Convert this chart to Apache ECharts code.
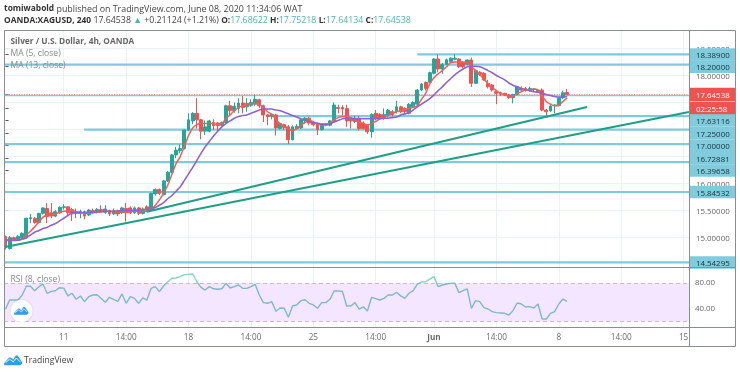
<!DOCTYPE html>
<html><head><meta charset="utf-8">
<style>html,body{margin:0;padding:0;background:#fff}#main{width:740px;height:373px;filter:blur(0.4px)}</style>
<script src="https://cdn.jsdelivr.net/npm/echarts@6/dist/echarts.min.js"></script>
</head><body><div id="main"></div>
<script>
// [open, close, low, high], one row per 4h bar
const ohlc = [
[15.02,14.82,14.78,15.04],[14.80,15.00,14.78,15.03],[15.00,14.97,14.94,15.02],[14.96,15.02,14.94,15.05],[14.99,15.08,14.97,15.10],
[15.00,15.36,14.98,15.37],[15.35,15.37,15.27,15.44],[15.36,15.28,15.26,15.38],[15.28,15.45,15.26,15.46],[15.45,15.55,15.43,15.56],
[15.54,15.39,15.27,15.64],[15.46,15.40,15.36,15.64],[15.40,15.48,15.38,15.51],[15.46,15.56,15.44,15.58],[15.56,15.57,15.52,15.62],
[15.57,15.46,15.42,15.58],[15.52,15.44,15.31,15.55],[15.48,15.45,15.36,15.54],[15.45,15.48,15.36,15.52],[15.48,15.40,15.34,15.50],
[15.42,15.51,15.40,15.53],[15.50,15.47,15.44,15.54],[15.48,15.52,15.45,15.55],[15.52,15.49,15.46,15.60],[15.47,15.53,15.44,15.60],
[15.50,15.44,15.40,15.52],[15.44,15.50,15.42,15.54],[15.50,15.44,15.40,15.52],[15.46,15.55,15.44,15.57],[15.54,15.46,15.30,15.64],
[15.55,15.46,15.44,15.58],[15.46,15.55,15.44,15.58],[15.55,15.45,15.42,15.57],[15.45,15.53,15.43,15.56],[15.57,15.51,15.47,15.60],
[15.51,15.82,15.49,15.83],[15.81,15.89,15.78,15.91],[15.89,15.82,15.79,15.91],[15.80,16.05,15.78,16.07],[16.05,16.21,16.03,16.23],
[16.21,16.53,16.19,16.55],[16.53,16.62,16.47,16.68],[16.61,16.65,16.56,16.72],[16.65,16.99,16.63,17.00],[16.99,17.18,16.97,17.30],
[17.16,17.30,17.10,17.32],[17.30,17.18,17.02,17.58],[17.18,16.97,16.82,17.20],[16.97,17.05,16.90,17.17],[16.97,17.16,16.95,17.18],
[17.13,17.07,16.99,17.19],[17.12,17.07,16.97,17.14],[17.08,17.13,17.05,17.15],[17.13,17.44,17.11,17.46],[17.44,17.35,17.26,17.53],
[17.35,17.43,17.31,17.50],[17.39,17.49,17.30,17.58],[17.49,17.41,17.30,17.62],[17.42,17.48,17.33,17.58],[17.45,17.50,17.42,17.56],
[17.47,17.56,17.44,17.65],[17.55,17.44,17.40,17.57],[17.44,17.27,17.14,17.46],[17.27,17.24,17.08,17.29],[17.24,17.28,17.19,17.30],
[17.27,17.03,16.89,17.29],[17.02,17.115,17.00,17.13],[17.09,17.04,16.99,17.11],[17.05,16.81,16.73,17.08],[16.81,17.05,16.80,17.08],
[17.02,17.06,17.00,17.10],[17.03,17.18,17.01,17.20],[17.16,17.21,17.12,17.23],[17.21,17.12,17.08,17.24],[17.13,17.09,17.06,17.15],
[17.10,17.00,16.90,17.12],[17.00,17.10,16.98,17.12],[17.08,17.10,17.06,17.12],[17.08,17.16,17.06,17.18],[17.16,17.454,17.14,17.50],
[17.41,17.39,17.30,17.46],[17.41,17.38,17.27,17.45],[17.39,17.16,17.05,17.46],[17.21,17.16,17.02,17.23],[17.15,17.21,17.12,17.26],
[17.21,17.02,16.98,17.25],[17.12,17.02,17.00,17.15],[17.08,16.96,16.92,17.10],[16.96,17.28,16.85,17.30],[17.30,17.21,17.17,17.36],
[17.28,17.21,17.18,17.30],[17.22,17.28,17.18,17.39],[17.27,17.36,17.22,17.38],[17.33,17.28,17.24,17.36],[17.33,17.42,17.30,17.53],
[17.42,17.33,17.30,17.44],[17.39,17.33,17.29,17.41],[17.30,17.467,17.28,17.49],[17.42,17.50,17.40,17.52],[17.47,17.73,17.45,17.75],
[17.73,17.843,17.71,17.86],[17.87,17.76,17.72,17.89],[17.873,18.052,17.86,18.07],[18.04,18.305,18.02,18.32],[18.305,18.12,18.06,18.39],
[18.12,18.206,18.03,18.23],[18.206,18.29,18.19,18.31],[18.256,18.32,18.24,18.34],[18.30,18.32,18.28,18.39],[18.305,18.163,18.14,18.32],
[18.243,18.163,18.14,18.26],[18.206,18.286,18.19,18.30],[18.286,17.855,17.79,18.33],[17.855,18.09,17.84,18.11],[18.06,18.02,17.99,18.08],
[18.04,17.917,17.90,18.06],[17.855,17.793,17.76,17.92],[17.824,17.732,17.70,17.84],[17.70,17.67,17.47,17.72],[17.68,17.664,17.62,17.70],
[17.67,17.64,17.62,17.68],[17.64,17.59,17.57,17.66],[17.59,17.65,17.485,17.66],[17.65,17.79,17.63,17.80],[17.76,17.73,17.70,17.80],
[17.76,17.73,17.70,17.79],[17.72,17.76,17.70,17.79],[17.74,17.75,17.70,17.76],[17.70,17.73,17.68,17.75],[17.73,17.36,17.34,17.76],
[17.36,17.33,17.22,17.38],[17.343,17.436,17.33,17.45],[17.44,17.454,17.30,17.47],[17.442,17.578,17.43,17.59],[17.59,17.68,17.56,17.72],
[17.686,17.645,17.64,17.752]
];
const ma5 = [
14.98,14.95,14.96,14.96,14.98,15.05,15.12,15.20,15.29,15.38,
15.42,15.43,15.44,15.47,15.49,15.50,15.50,15.48,15.47,15.45,
15.45,15.46,15.47,15.48,15.49,15.49,15.48,15.48,15.48,15.48,
15.48,15.49,15.49,15.49,15.49,15.52,15.60,15.70,15.82,15.97,
16.17,16.37,16.50,16.69,16.89,17.03,17.09,17.115,17.11,17.11,
17.11,17.09,17.11,17.20,17.27,17.35,17.405,17.44,17.46,17.48,
17.485,17.46,17.41,17.33,17.28,17.19,17.10,17.05,17.01,16.98,
17.02,17.08,17.13,17.17,17.14,17.10,17.09,17.09,17.12,17.18,
17.22,17.24,17.24,17.22,17.17,17.14,17.11,17.09,17.11,17.15,
17.20,17.24,17.26,17.30,17.33,17.35,17.37,17.39,17.41,17.44,
17.56,17.67,17.85,17.96,18.03,18.09,18.16,18.24,18.25,18.25,
18.25,18.24,18.17,18.09,18.02,17.93,17.85,17.78,17.72,17.67,
17.64,17.62,17.62,17.67,17.70,17.73,17.74,17.75,17.73,17.62,
17.52,17.47,17.44,17.45,17.52,17.58
];
const ma13 = [
14.95,14.95,14.95,14.955,14.97,15.00,15.05,15.10,15.13,15.17,
15.19,15.23,15.26,15.31,15.36,15.41,15.46,15.46,15.465,15.465,
15.47,15.47,15.48,15.48,15.49,15.49,15.49,15.49,15.50,15.50,
15.50,15.51,15.51,15.52,15.52,15.53,15.56,15.60,15.65,15.72,
15.78,15.86,15.94,16.06,16.18,16.30,16.43,16.56,16.68,16.78,
16.88,16.97,17.05,17.11,17.16,17.21,17.24,17.26,17.27,17.30,
17.33,17.36,17.38,17.38,17.38,17.36,17.35,17.32,17.29,17.26,
17.23,17.20,17.18,17.15,17.13,17.12,17.10,17.10,17.11,17.14,
17.17,17.20,17.21,17.21,17.20,17.20,17.20,17.20,17.20,17.20,
17.20,17.21,17.21,17.22,17.23,17.27,17.29,17.31,17.36,17.42,
17.47,17.52,17.57,17.64,17.72,17.79,17.87,17.94,18.01,18.07,
18.12,18.16,18.17,18.17,18.16,18.13,18.09,18.05,18.00,17.96,
17.92,17.86,17.82,17.79,17.76,17.74,17.72,17.70,17.69,17.67,
17.65,17.63,17.61,17.60,17.60,17.61
];
const rsi = [
39,53.5,53.5,53.5,61,75,75,68,74,78.5,
64,67,68,72.7,72,60,64,54.6,59.8,51,
58.7,61.3,61.8,56,50,57.7,54.6,51.5,63,48.4,
58.7,56,48.4,56.7,53.5,71.7,74.3,66.5,75.3,82,
87.3,87.8,89.9,93,93.5,94,82,73.3,69,74.3,
71,70.2,71,79.5,72.2,74.3,76.9,71.7,71.7,74.3,
78,61.3,49.4,48.4,51,36,41,40.6,26.6,44.2,
45.8,52.5,54,48.4,45.8,40.6,49.4,49.4,54.6,67.5,
67.5,67,44.2,44.2,49.4,39.5,43,36.4,57.7,55.6,
53.5,56,61.3,61.3,65.5,60,56,64,68,78.4,
81.6,82,86,89.9,74.3,76.9,78.4,79.5,79.5,65,
68,70.7,40.6,52.5,51,41.6,39.5,35.4,33.8,33.3,
32.8,30.2,37,48.9,47.3,42.6,43.2,41,47.3,24,
24,32.8,35.4,47.3,55,51.5
];
const levels = [18.389,18.2,17.63116,17.25,17.0,16.72881,16.39658,15.84532,14.54295];
const levelStartBar = [99,-0.36,-0.36,64,18.9,-0.36,-0.36,-0.36,-0.36];
const lastPrice = 17.64538;
const trendA = [[-0.12,14.828],[164.3,17.325]];
const trendB = [[34,15.48],[139.8,17.417]];
const xTickBars = [14,29,44,59,74,89,103,118,133,148,163];
const xTickLabels = ['11','14:00','18','14:00','25','14:00','Jun','14:00','8','14:00','15'];
const priceGrid = [15,15.5,16,16.5,17,17.5,18,18.5];
// right scale: text, place on scale (badges are pushed apart so they do not collide), badge kind
const scaleText = ['18.50000','18.00000','16.00000','15.50000','15.00000','18.38900','18.20000','17.64538','02:25:58','17.63116','17.25000','17.00000','16.72881','16.39658','15.84532','14.54295'];
const scaleAt =   [18.5,18,16,15.5,15,18.389,18.163,17.649,17.39,17.168,16.937,16.703,16.47,16.243,15.845,14.54];
const scaleKind = ['p','p','p','p','p','c','c','r','r','c','c','c','c','c','c','c'];

const chart = echarts.init(document.getElementById('main'), null, {renderer:'canvas'});
const FONT = '"Open Sans", sans-serif';
const G = '#e9f2f6';
const levelSeries = levels.map((v,k)=>({
  type:'line', xAxisIndex:0, yAxisIndex:0, symbol:'none', silent:true, z:2,
  data:[[levelStartBar[k],v],[164.3,v]],
  lineStyle:{color:'#7fcbdc',width:k===2?1.5:2.2}
}));
const cloud = [[0,10],[5.5,3.5],[7,2.6],[8.2,3.2],[11,5.4],[13.6,1],[15,0.4],[16.2,1],[21,8],[21.5,10],[19,12],[3,12],[0.4,12]];
const zig = [[2,9],[6.5,5],[11,8],[14.5,3.5],[19,8]];
function logo(x,y,s){const m=p=>[x+p[0]*s,y+p[1]*s];return [
 {type:'polygon',shape:{points:cloud.map(m)},style:{fill:'#2a9df4'},z:20,silent:true},
 {type:'polyline',shape:{points:zig.map(m)},style:{fill:null,stroke:'#fff',lineWidth:1.1*s},z:21,silent:true}
];}
const rt=(o)=>Object.assign({fontFamily:FONT,fontSize:8.8},o);
const rsiStop = 16/60;
chart.setOption({
  animation:false,
  backgroundColor:'#fff',
  textStyle:{fontFamily:FONT},
  grid:[
    {left:4,right:51,top:30,height:237,show:false},
    {left:4,right:51,top:267,height:60,show:false}
  ],
  xAxis:[
    {type:'value',gridIndex:0,min:-0.36,max:164.3,axisLine:{show:false},axisLabel:{show:false},
     axisTick:{show:false,customValues:xTickBars},splitLine:{show:true,lineStyle:{color:G}}},
    {type:'value',gridIndex:1,min:-0.36,max:164.3,axisLine:{show:false},
     axisTick:{show:false,customValues:xTickBars},splitLine:{show:true,lineStyle:{color:G}},
     axisLabel:{customValues:xTickBars,margin:7,fontSize:8.2,color:'#6b6b6b',fontFamily:FONT,
       formatter:v=>{const t=xTickLabels[xTickBars.indexOf(v)];return t==='Jun'?'{b|Jun}':t;},
       rich:{b:{fontWeight:'bold',fontSize:8.2,color:'#6b6b6b',fontFamily:FONT}}}}
  ],
  yAxis:[
    {type:'value',gridIndex:0,position:'right',min:14.458,max:18.841,axisLine:{show:false},
     axisTick:{show:true,length:3,customValues:scaleAt,lineStyle:{color:'#555'}},
     splitLine:{show:false},
     axisLabel:{customValues:scaleAt,margin:1,align:'left',
       formatter:v=>{const k=scaleAt.indexOf(v);return '{'+scaleKind[k]+'|'+scaleText[k]+'}';},
       rich:{
         p:{width:40,height:9.6,lineHeight:9.6,padding:[3,0,0,6],fontSize:7.9,color:'#666',fontFamily:FONT},
         c:{width:40,height:9.6,lineHeight:9.6,padding:[3,0,0,6],fontSize:7.9,color:'#17323c',backgroundColor:'#80ccdc',fontFamily:FONT},
         r:{width:40,height:10.4,lineHeight:10.4,padding:[3,0,0,6],fontSize:7.9,color:'#fff',backgroundColor:'#ef5350',fontFamily:FONT}
       }}},
    {type:'value',gridIndex:1,position:'right',min:11.5,max:104.9,axisLine:{show:false},
     axisTick:{show:true,length:3,customValues:[40,80],lineStyle:{color:'#555'}},
     splitLine:{show:true,lineStyle:{color:'#e6dcf3'}},
     axisLabel:{customValues:[40,80],margin:6,fontSize:7.9,color:'#666',fontFamily:FONT,formatter:v=>v.toFixed(2)}}
  ],
  series:[
    {type:'line',xAxisIndex:0,yAxisIndex:0,symbol:'none',silent:true,z:1,
     data:priceGrid.flatMap(v=>[[-0.36,v],[164.3,v],[null,null]]),connectNulls:false,lineStyle:{color:G,width:1}},
    ...levelSeries,
    {type:'line',xAxisIndex:0,yAxisIndex:0,symbol:'none',silent:true,z:3,
     data:[[-0.36,lastPrice],[164.3,lastPrice]],lineStyle:{color:'#f08a86',width:1,type:[1,1.5]}},
    {type:'candlestick',xAxisIndex:0,yAxisIndex:0,z:4,barWidth:3.4,
     encode:{x:0,y:[1,2,3,4]},
     data:ohlc.map((r,i)=>[i,r[0],r[1],r[2],r[3]]),
     itemStyle:{color:'#26a69a',color0:'#ef5350',borderColor:'#26a69a',borderColor0:'#ef5350',borderWidth:1}},
    {type:'line',name:'MA5',xAxisIndex:0,yAxisIndex:0,symbol:'none',z:5,smooth:0.2,data:ma5.map((v,i)=>[i,v]),lineStyle:{color:'#f0605a',width:1.5}},
    {type:'line',name:'MA13',xAxisIndex:0,yAxisIndex:0,symbol:'none',z:5,smooth:0.2,data:ma13.map((v,i)=>[i,v]),lineStyle:{color:'#8e63cf',width:1.6}},
    {type:'line',xAxisIndex:0,yAxisIndex:0,symbol:'none',silent:true,z:6,data:trendA,lineStyle:{color:'#1f9f85',width:2.2}},
    {type:'line',xAxisIndex:0,yAxisIndex:0,symbol:'none',silent:true,z:6,data:trendB,lineStyle:{color:'#1f9f85',width:2.2}},
    {type:'line',name:'RSI',xAxisIndex:1,yAxisIndex:1,symbol:'none',z:5,data:rsi.map((v,i)=>[i,v]),
     lineStyle:{width:1.4,color:{type:'linear',global:true,x:0,y:267,x2:0,y2:327,colorStops:[
       {offset:0,color:'#7fd9b8'},{offset:rsiStop,color:'#7fd9b8'},{offset:rsiStop,color:'#7db9cb'},{offset:1,color:'#7db9cb'}]}},
     markArea:{silent:true,itemStyle:{color:'#f3e6fe'},data:[[{yAxis:20,xAxis:-0.36},{yAxis:80,xAxis:164.3}]],z:1},
     markLine:{silent:true,symbol:'none',label:{show:false},lineStyle:{color:'#cdb9dd',type:[4,3],width:1},data:[{yAxis:80},{yAxis:20}]}}
  ],
  graphic:[
    {type:'rect',shape:{x:4.5,y:30.5,width:731,height:316},style:{fill:null,stroke:'#8a8d94',lineWidth:1},z:15,silent:true},
    {type:'line',shape:{x1:689.5,y1:30,x2:689.5,y2:347},style:{stroke:'#8a8d94',lineWidth:1},z:15,silent:true},
    {type:'line',shape:{x1:4,y1:267.5,x2:736,y2:267.5},style:{stroke:'#8a8d94',lineWidth:1},z:15,silent:true},
    {type:'line',shape:{x1:4,y1:327.5,x2:736,y2:327.5},style:{stroke:'#8a8d94',lineWidth:1},z:15,silent:true},
    {type:'text',x:4,y:9,z:20,style:{verticalAlign:'middle',fontFamily:FONT,fontSize:8.9,
      text:'{b|tomiwabold} {n|published on TradingView.com, June 08, 2020 11:34:06 WAT}',
      rich:{b:rt({fontWeight:'bold',fontSize:8.4,fill:'#333'}),n:rt({fontSize:8.9,fill:'#444'})}}},
    {type:'text',x:4,y:20.5,z:20,style:{verticalAlign:'middle',fontFamily:FONT,fontSize:8.8,
      text:'{b|OANDA:XAGUSD, 240} {n|17.64538} {g|▲} {n|+0.21124 (+1.21%)} {b|O:}{g|17.68622} {b|H:}{g|17.75218} {b|L:}{g|17.64134} {b|C:}{g|17.64538}',
      rich:{b:rt({fontWeight:'bold',fontSize:8.4,fill:'#333'}),n:rt({fill:'#444'}),g:rt({fill:'#4db6ac'})}}},
    {type:'text',x:10.5,y:42,z:20,style:{verticalAlign:'middle',fontFamily:FONT,fontWeight:'bold',fontSize:8.3,fill:'#666',text:'Silver / U.S. Dollar, 4h, OANDA'}},
    {type:'text',x:10.5,y:54,z:20,style:{verticalAlign:'middle',fontFamily:FONT,fontSize:8.6,fill:'#888',text:'MA (5, close)'}},
    {type:'text',x:10.5,y:66,z:20,style:{verticalAlign:'middle',fontFamily:FONT,fontSize:8.6,fill:'#888',text:'MA (13, close)'}},
    {type:'text',x:10.5,y:279.5,z:20,style:{verticalAlign:'middle',fontFamily:FONT,fontSize:8.6,fill:'#888',text:'RSI (8, close)'}},
    {type:'text',x:24,y:360.5,z:20,style:{verticalAlign:'middle',fontFamily:FONT,fontSize:8.6,fill:'#444',text:'TradingView'}},
    {type:'circle',shape:{cx:21.5,cy:311,r:11},style:{fill:'#fff',shadowBlur:2,shadowColor:'rgba(0,0,0,.15)'},z:19,silent:true},
    ...logo(14,306.5,0.68),
    ...logo(4,355,0.85)
  ]
});
</script></body></html>
